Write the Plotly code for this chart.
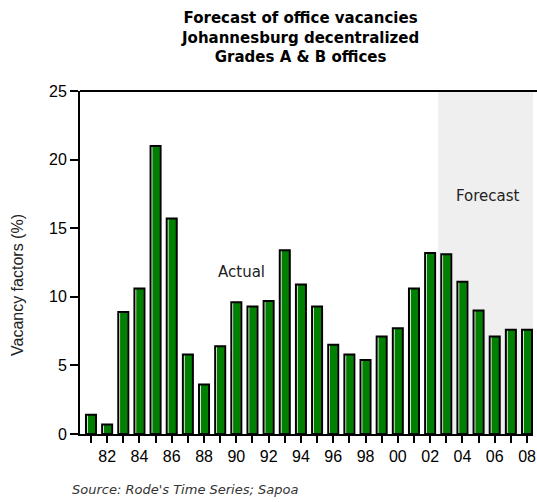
import plotly.graph_objects as go

years = list(range(1981, 2009))
vacancy = [1.4, 0.7, 8.9, 10.6, 21.0, 15.7, 5.8, 3.6, 6.4, 9.6, 9.3, 9.7, 13.4, 10.9,
           9.3, 6.5, 5.8, 5.4, 7.1, 7.7, 10.6, 13.2, 13.1, 11.1, 9.0, 7.1, 7.6, 7.6]
tick_labels = [f"{y % 100:02d}" if y % 2 == 0 else "" for y in years]
forecast_start = 2002.5

W, H = 537, 502
L, R, T, B = 80, 4, 91, 68
pw, ph = W - L - R, H - T - B

green = "#008000"
bw = 0.62
px = 1 / 16.15

fig = go.Figure()
fig.add_trace(go.Bar(x=years, y=vacancy, width=bw, offset=-bw / 2,
                     marker=dict(color="white", line=dict(width=0)), hoverinfo="skip"))
fig.add_trace(go.Bar(x=years, y=vacancy, width=bw - 2.5 * px, offset=-bw / 2 + 1.8 * px,
                     marker=dict(color=green, line=dict(width=0))))
fig.add_trace(go.Bar(x=years, y=vacancy, width=bw, offset=-bw / 2,
                     marker=dict(color="rgba(0,0,0,0)", line=dict(color="black", width=2)),
                     hoverinfo="skip"))

fig.add_shape(type="rect", xref="x", yref="y", x0=forecast_start, x1=2008.37, y0=0, y1=25,
              fillcolor="#efefef", line=dict(width=0), layer="below")
fig.add_shape(type="line", xref="paper", yref="paper", x0=0, x1=1 + R / pw, y0=1, y1=1,
              line=dict(color="black", width=2))

fig.add_annotation(x=1990.33, y=11.83, xref="x", yref="y", text="Actual", showarrow=False,
                   font=dict(family="DejaVu Sans", size=15, color="#222"))
fig.add_annotation(x=2005.56, y=17.37, xref="x", yref="y", text="Forecast", showarrow=False,
                   font=dict(family="DejaVu Sans", size=15, color="#222"))

fig.add_annotation(x=(300 - L) / pw, y=(H - B - 37) / ph, xref="paper", yref="paper",
                   text="<b>Forecast of office vacancies<br>Johannesburg decentralized<br>Grades A &amp; B offices</b>",
                   showarrow=False, xanchor="center", yanchor="middle",
                   font=dict(family="DejaVu Sans", size=15, color="black"))
fig.add_annotation(x=(17 - L) / pw, y=(H - B - 285) / ph, xref="paper", yref="paper",
                   text="Vacancy factors (%)", textangle=-90, showarrow=False,
                   xanchor="center", yanchor="middle",
                   font=dict(family="Liberation Sans", size=16, color="#222"))
fig.add_annotation(x=(70 - L) / pw, y=(H - B - 489) / ph, xref="paper", yref="paper",
                   text="<i>Source: Rode's Time Series; Sapoa</i>", showarrow=False,
                   xanchor="left", yanchor="middle",
                   font=dict(family="DejaVu Sans", size=13, color="#333"))

fig.update_layout(
    width=W, height=H, margin=dict(l=L, r=R, t=T, b=B, autoexpand=False),
    paper_bgcolor="white", plot_bgcolor="white", showlegend=False,
    barmode="overlay",
)
fig.update_xaxes(range=[1980.32, 2008.37], tickmode="array", tickvals=years, ticktext=tick_labels,
                 ticks="outside", ticklen=7, tickwidth=1.5, tickcolor="black",
                 showline=True, linecolor="black", linewidth=2, showgrid=False, zeroline=False,
                 tickfont=dict(family="Liberation Sans", size=16, color="black"))
fig.update_yaxes(range=[0, 25], tickmode="linear", tick0=0, dtick=5,
                 ticks="outside", ticklen=8, tickwidth=1.5, tickcolor="black",
                 showline=True, linecolor="black", linewidth=2, showgrid=False, zeroline=False,
                 tickfont=dict(family="Liberation Sans", size=16, color="black"))

fig.write_html("out.html")
